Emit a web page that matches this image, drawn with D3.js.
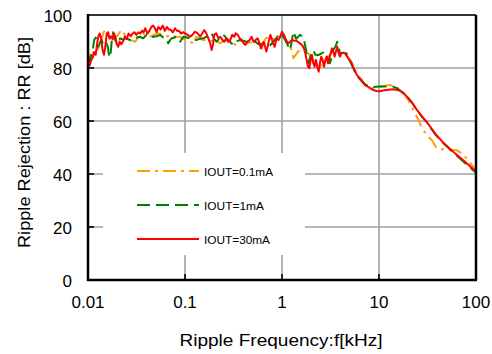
<!DOCTYPE html>
<html><head><meta charset="utf-8">
<script src="https://cdn.jsdelivr.net/npm/d3@7"></script>
<style>body{margin:0;background:#fff}svg{display:block}</style>
</head><body>
<svg id="c" width="492" height="354"></svg>
<script>
// ---- data ----
const xTicks = [0.01, 0.1, 1, 10, 100];
const xTickLabels = ["0.01", "0.1", "1", "10", "100"];
const yTicks = [0, 20, 40, 60, 80, 100];
const seriesNames = ["IOUT=0.1mA", "IOUT=1mA", "IOUT=30mA"];

const freq30 = [0.01,0.0104,0.0108,0.0112,0.0116,0.012,0.0124,0.0128,0.0132,0.0137,0.0141,0.0146,0.0151,0.0156,0.0161,0.0167,0.0173,0.0179,0.0185,0.0191,0.0198,0.0205,0.0212,0.022,0.023,0.024,0.025,0.0262,0.0275,0.0288,0.03,0.0315,0.033,0.0345,0.036,0.0375,0.039,0.041,0.043,0.045,0.047,0.049,0.051,0.053,0.056,0.059,0.062,0.065,0.068,0.071,0.075,0.079,0.083,0.087,0.091,0.096,
0.1,0.1065,0.1126,0.119,0.1268,0.135,0.143,0.151,0.158,0.166,0.174,0.182,0.188,0.194,0.2,0.21,0.221,0.231,0.243,0.254,0.267,0.28,0.293,0.307,0.323,0.333,0.35,0.366,0.384,0.402,0.42,0.443,0.464,0.486,0.51,0.535,0.561,0.588,0.606,0.625,0.644,0.67,0.689,0.711,0.735,0.76,0.8,0.84,0.88,0.92,0.96,1.0,
1.048,1.1,1.153,1.209,1.268,1.33,1.394,1.462,1.533,1.608,1.686,1.74,1.796,1.853,1.913,1.974,2.037,2.103,2.17,2.24,2.31,2.39,2.46,2.54,2.62,2.71,2.8,2.88,2.98,3.07,3.17,3.27,3.38,3.49,3.6,3.72,3.84,3.96,4.09,4.3,4.46,
5.2,5.9,6.6,7.2,7.8,8.6,9.4,10.2,11,12.5,14,15.5,16.6,18,19.4,22,24.6,28,31,35,39,45,53,62,73.5,85,100];
const rr30 = [86,81,83,84,86,85,89,92,93,91,87,85,88,93,93.5,91,92,91,93,92,89,88,90,89,90,92,91,93,92,93,93.5,92.5,93.5,93,94,93.5,95,93,94,95.5,96,95,93.5,95.5,94.5,96,94,95.5,94.5,94.5,93.5,95,94,94,93,93.5,
93.1,92.5,91.8,92.5,93.7,93.1,91.8,93.1,94.3,93.1,91.2,89.3,86.8,88.7,92.5,93.1,91.2,91.8,90.6,89.9,91.2,89.9,90.6,92.5,91.8,93.1,92.5,91.2,90.6,89.3,88.7,89.9,90.6,91.8,89.9,90.6,91.2,89.3,87.4,88.7,89.9,88.0,86.2,88.0,90.6,92.5,89.9,88.0,91.2,90.6,91.8,93.7,
92.5,90.6,89.3,89.9,90.6,90.3,90.3,89.9,89.3,88.7,87.4,85.5,83.0,80.5,79.9,83.0,84.9,81.8,80.5,83.0,80.5,78.6,81.8,84.3,83.0,80.5,83.0,84.3,81.8,83.6,85.5,87.4,86.2,84.3,86.2,88.0,85.5,84.3,85.5,85.7,85.5,
81.8,77.4,75.5,73.5,72.8,71.8,71.3,71.2,71.5,71.8,72,71.7,71.4,70.5,69.2,66.8,64.2,61.5,59.7,57,54.7,52.2,49.7,47.5,45.3,43.2,40.9];

const freq1 = [0.01,0.0104,0.0108,0.0112,0.0116,0.012,0.0124,0.0128,0.0133,0.0138,0.0143,0.0148,0.0154,0.016,0.0165,0.017,0.0176,0.0182,0.0188,0.0198,0.0206,0.0214,0.0225,0.025,0.027,0.0293,0.032,0.0343,0.037,0.0402,0.043,0.047,0.051,0.0552,0.06,0.0647,0.0672,0.07,0.073,0.078,0.082,0.089,0.096,0.104,0.1127,0.122,0.132,0.143,0.154,0.17,0.188,0.2,0.212,0.23,0.249,0.28,0.315,0.34,0.369,0.4,0.432,0.5,0.55,0.592,0.65,0.694,0.75,0.82,0.953,1.03,1.1,1.21,1.26,1.31,1.4,1.53,1.66,1.77,1.87,1.95,2.1,2.2,2.37,2.56,2.77,2.95,3.12,3.38,3.55,3.71,3.96,4.3,4.64,5.2,5.9,6.6,7.2,7.8,8.6,10,12,14,15.5,17,18.6,20,22,24.6,28,31,35,39,45,53,62,73.5,85,100];
const rr1 = [80.5,82,85,87,90.6,91.5,89,88,89.5,90.5,89,90,89.5,88,84.5,84,90.6,93.5,91,89.3,90.5,91.2,90.8,91.2,90.5,90.6,91.5,91.8,91.2,92.5,91.5,91.8,92,92.5,91.5,91.2,89.3,90.5,91.2,91.5,91.8,89.9,91.8,91.5,91.2,90.5,90.6,91,91.2,92,93.1,91,89.9,91.5,92.5,90.5,88.7,90,90.6,90.2,89.9,90.5,89.5,88.7,89.5,88.0,88.5,90,93.1,91.8,90,86.8,90,93.7,91,92.5,91.8,86.8,81.8,84,86.8,85,84.9,85.5,86.2,84,81.8,86.8,88,89.9,85.5,85.8,85.5,81.5,77,75.2,73.8,73.2,72.8,73,73,73,72.3,71,69.8,68.7,66.8,64.2,61.5,59.6,56.8,54.5,52,49.5,47.2,44.8,42.8,40.5];

const freq01 = [0.01,0.0105,0.011,0.0115,0.012,0.0125,0.013,0.0138,0.0145,0.015,0.0158,0.0165,0.018,0.019,0.02,0.022,0.0235,0.025,0.0275,0.0305,0.033,0.037,0.041,0.044,0.048,0.052,0.056,0.06,0.066,0.072,0.08,0.089,0.1,0.113,0.122,0.13,0.14,0.16,0.18,0.2,0.229,0.26,0.3,0.34,0.38,0.45,0.53,0.58,0.62,0.68,0.76,0.85,0.95,1.05,1.15,1.25,1.31,1.45,1.66,1.8,2.0,2.2,2.47,2.7,3.0,3.3,3.7,4.1,4.64,5.2,5.9,6.6,7.2,8.1,9.5,11,13,14.5,16.6,18.3,20,22.3,24.6,28.5,31.5,35,39,43,50,56,63,70,80,90,100];
const rr01 = [82,84,85,86,85.5,86.5,89,91,93.5,94.3,93,91,90.6,91.5,92,94.3,93,91.8,90.5,89.9,91.5,93.1,92,91.8,92.5,93.1,92.8,92.5,92,92.5,91.8,91.8,90.5,89.9,89.3,91.8,91,90.5,90,90.5,89.3,90.6,89.5,88.7,90.5,89.5,89.9,89,87.4,91.2,91.8,90.5,92,91.5,89,87,83.7,86,88,86.5,84,82,80.5,82.5,84.3,86,86.5,85.5,84.9,82.4,77.5,75,73.5,72.3,72.5,73.2,73.6,73.2,71.7,70,68,64.5,61.6,56.6,54.5,52.8,50,49.3,49.3,49.2,49,48,45.9,43.5,41.5];

// ---- layout ----
const svg = d3.select("#c");
const L = 88, R = 476, T = 15, B = 280;
const x = d3.scaleLog().domain([0.01, 100]).range([L, R]);
const y = d3.scaleLinear().domain([0, 100]).range([B, T]);
const font = "'Liberation Sans', Arial, sans-serif";

// grid
const grid = svg.append("g").attr("stroke", "#a0a0a0").attr("stroke-width", 1.6);
grid.selectAll("line.h").data(yTicks.filter(d => d > 0 && d < 100)).join("line")
  .attr("x1", L).attr("x2", R).attr("y1", d => y(d)).attr("y2", d => y(d));
grid.selectAll("line.v").data(xTicks.filter(d => d > 0.01 && d < 100)).join("line")
  .attr("y1", T).attr("y2", B).attr("x1", d => x(d)).attr("x2", d => x(d));

// legend background (hides grid)
svg.append("rect").attr("x", 103).attr("y", 153).attr("width", 202).attr("height", 102).attr("fill", "#fff");

// ticks (inward)
const tk = svg.append("g").attr("stroke", "#000").attr("stroke-width", 1.6);
tk.selectAll("line.yt").data(yTicks.filter(d => d > 0 && d < 100)).join("line")
  .attr("x1", L).attr("x2", L + 6).attr("y1", d => y(d)).attr("y2", d => y(d));
tk.selectAll("line.xt").data(xTicks.filter(d => d > 0.01 && d < 100)).join("line")
  .attr("y1", B).attr("y2", B - 6).attr("x1", d => x(d)).attr("x2", d => x(d));

// curves
svg.append("clipPath").attr("id", "clip").append("rect").attr("x", L).attr("y", T).attr("width", R - L).attr("height", B - T);
const line = d3.line().x(d => x(d[0])).y(d => y(d[1]));
const series = [
  {f: freq01, v: rr01, color: "#ffa000", dash: "13,5,3,5"},
  {f: freq1, v: rr1, color: "#008000", dash: "13,6"},
  {f: freq30, v: rr30, color: "#ff0000", dash: null}
];
const cg = svg.append("g").attr("clip-path", "url(#clip)");
series.forEach(s => {
  cg.append("path").datum(s.f.map((f, i) => [f, s.v[i]]))
    .attr("d", line).attr("fill", "none").attr("stroke", s.color)
    .attr("stroke-width", 2).attr("stroke-dasharray", s.dash).attr("stroke-linejoin", "round");
});

// frame
svg.append("line").attr("x1", L).attr("x2", R).attr("y1", T).attr("y2", T).attr("stroke", "#333").attr("stroke-width", 2);
svg.append("line").attr("x1", R).attr("x2", R).attr("y1", T).attr("y2", B).attr("stroke", "#000").attr("stroke-width", 2.5);
svg.append("line").attr("x1", L).attr("x2", L).attr("y1", T - 1).attr("y2", B + 1).attr("stroke", "#000").attr("stroke-width", 2.5);
svg.append("line").attr("x1", L - 1).attr("x2", R + 1).attr("y1", B).attr("y2", B).attr("stroke", "#000").attr("stroke-width", 2.5);

// tick labels
svg.selectAll("text.xl").data(xTicks).join("text")
  .attr("x", d => x(d)).attr("y", 308).attr("text-anchor", "middle")
  .attr("font-family", font).attr("font-size", 17).text((d, i) => xTickLabels[i]);
svg.selectAll("text.yl").data(yTicks).join("text")
  .attr("x", 72).attr("y", d => y(d) + 7).attr("text-anchor", "end")
  .attr("font-family", font).attr("font-size", 17).text(d => d);

// axis titles
svg.append("text").attr("x", 281).attr("y", 346).attr("text-anchor", "middle")
  .attr("font-family", font).attr("font-size", 16).attr("textLength", 203).attr("lengthAdjust", "spacingAndGlyphs")
  .text("Ripple Frequency:f[kHz]");
svg.append("text").attr("transform", "translate(30,142.5) rotate(-90)").attr("text-anchor", "middle")
  .attr("font-family", font).attr("font-size", 16).attr("textLength", 211).attr("lengthAdjust", "spacingAndGlyphs")
  .text("Ripple Rejection : RR [dB]");

// legend
const legY = [171, 205, 239];
const legW = [69, 60, 66];
series.forEach((s, i) => {
  svg.append("line").attr("x1", 137).attr("x2", 199).attr("y1", legY[i]).attr("y2", legY[i])
    .attr("stroke", s.color).attr("stroke-width", 2).attr("stroke-dasharray", s.dash);
  svg.append("text").attr("x", 204).attr("y", legY[i] + 4.5).attr("font-family", font).attr("font-size", 11.5)
    .attr("textLength", legW[i]).attr("lengthAdjust", "spacingAndGlyphs").text(seriesNames[i]);
});
</script>
</body></html>
